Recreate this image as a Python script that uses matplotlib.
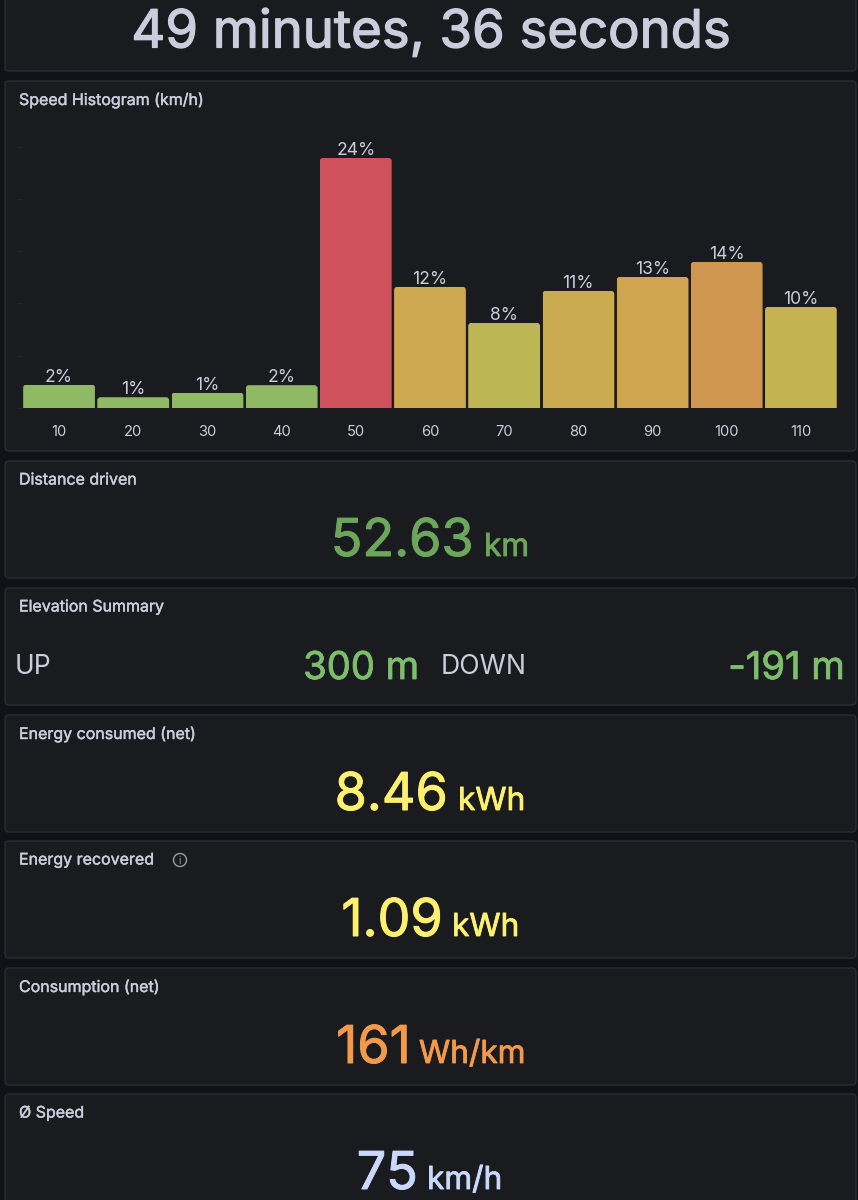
import matplotlib
matplotlib.use("Agg")
import matplotlib.pyplot as plt
import matplotlib.patheffects as pe
from matplotlib.patches import FancyBboxPatch, Circle

plt.rcParams['font.family'] = ['Inter', 'DejaVu Sans']

W, H = 858, 1200

duration = "49 minutes, 36 seconds"

speed_bins = ["10", "20", "30", "40", "50", "60", "70", "80", "90", "100", "110"]
speed_share = [2.24, 1.02, 1.47, 2.17, 23.9, 11.57, 8.13, 11.19, 12.52, 13.96, 9.66]
bar_colors = ["#8fb964", "#8fb964", "#8fb964", "#8fb964", "#cf515c", "#cfa94f",
              "#bdb655", "#cbab50", "#cfa550", "#cf9650", "#c4b350"]
share_ticks = [0, 5, 10, 15, 20, 25]

# panel tops and bottoms in pixels
panel_tops = [-20, 81, 461, 588, 715, 841, 968, 1094]
panel_bottoms = [71, 451, 578, 705, 832, 958, 1085, 1230]
panel_titles = ["", "Speed Histogram (km/h)", "Distance driven", "Elevation Summary",
                "Energy consumed (net)", "Energy recovered", "Consumption (net)", "Ø Speed"]

stat_panels = [2, 4, 5, 6, 7]
stat_values = ["52.63", "8.46", "1.09", "161", "75"]
stat_units = ["km", "kWh", "kWh", "Wh/km", "km/h"]
stat_colors = ["#6ca65a", "#fdf06e", "#fdf06e", "#f2994a", "#c9d8fb"]
stat_value_right = [474, 448, 443, 411, 418]
stat_unit_left = [484, 458, 452, 419, 427]

PAGE = "#111217"
PANEL = "#1a1b1f"
BORDER = "#2a2c32"
TEXT = "#ccccdc"

fig = plt.figure(figsize=(W / 100, H / 100), dpi=100, facecolor=PAGE)

# full-figure layer in pixel units for the panels and stat text
bg = fig.add_axes([0, 0, 1, 1])
bg.set_xlim(0, W)
bg.set_ylim(H, 0)
bg.axis("off")


def label(x, y, s, color, size, lw=0.0, **kw):
    # a thin stroke in the text colour stands in for the medium weight
    t = bg.text(x, y, s, color=color, fontsize=size, **kw)
    if lw:
        t.set_path_effects([pe.withStroke(linewidth=lw, foreground=color)])
    return t


for top, bottom, title in zip(panel_tops, panel_bottoms, panel_titles):
    bg.add_patch(FancyBboxPatch((5, top), 851, bottom - top,
                                boxstyle="round,pad=0,rounding_size=4",
                                fc=PANEL, ec=BORDER, lw=1))
    if title:
        label(19, top + 19, title, TEXT, 11.5, 0.3, ha="left", va="center")

label(430.5, 34, duration, TEXT, 37.9, 0.9, ha="center", va="center")

for i, value, unit, col, vr, ul in zip(stat_panels, stat_values, stat_units, stat_colors,
                                       stat_value_right, stat_unit_left):
    base = panel_tops[i] + 95
    label(vr, base, value, col, 37.5, 0.7, ha="right", va="baseline")
    label(ul, base, unit, col, 22.8, 0.6, ha="left", va="baseline")

# elevation row
elev_base = 679
label(15, 674, "UP", TEXT, 19, ha="left", va="baseline")
label(419, elev_base, "300 m", "#7dbd6c", 27.5, 0.6, ha="right", va="baseline")
label(441, 674, "DOWN", TEXT, 19.2, ha="left", va="baseline")
label(845, elev_base, "-191 m", "#7dbd6c", 27.5, 0.6, ha="right", va="baseline")

# info icon next to the recovered panel title
bg.add_patch(Circle((180, 860), 6.5, fc="none", ec="#9a9ba6", lw=1))
label(180, 860.5, "i", "#9a9ba6", 7, ha="center", va="center")

# histogram
ax = fig.add_axes([22 / W, 1 - 408 / H, 816 / W, 278 / H])
ax.patch.set_alpha(0)
x = list(range(len(speed_bins)))
bars = ax.bar(x, speed_share, width=0.966, color=bar_colors, edgecolor=bar_colors, linewidth=0.8)
ax.set_xlim(-0.5, 10.5)
ax.set_ylim(0, 278 / 10.46)

# rounded top corners: clip each bar to a rounded box
units_per_px_x = 11 / 816
units_per_px_y = 1 / 10.46
for bar in bars:
    round_box = FancyBboxPatch((bar.get_x(), -1), bar.get_width(), bar.get_height() + 1,
                               boxstyle="round,pad=0,rounding_size=%f" % (3 * units_per_px_x),
                               mutation_aspect=units_per_px_y / units_per_px_x,
                               transform=ax.transData)
    bar.set_clip_path(round_box)

for xi, v in zip(x, speed_share):
    ax.annotate(f"{v:.0f}%", (xi, v), xytext=(0, -0.8), textcoords="offset points",
                ha="center", va="bottom", color=TEXT, fontsize=12.6)

for s in ax.spines.values():
    s.set_visible(False)
ax.set_yticks(share_ticks)
ax.set_yticklabels([])
ax.tick_params(axis="y", length=4, width=0.7, color="#25272c")
ax.set_xticks(x)
ax.set_xticklabels(speed_bins, color=TEXT, fontsize=10.6)
ax.tick_params(axis="x", length=0, pad=12)

fig.savefig("out.png", dpi=100, facecolor=PAGE)
